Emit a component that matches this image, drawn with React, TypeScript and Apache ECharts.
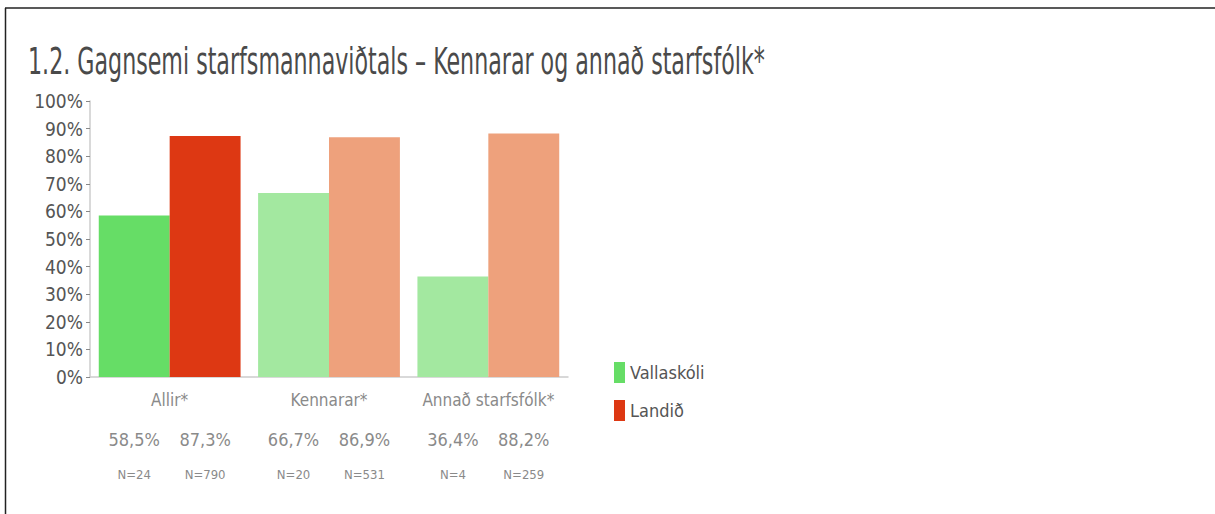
import React, { useEffect, useRef } from "react";
import * as echarts from "echarts";

const titleText = "1.2. Gagnsemi starfsmannaviðtals – Kennarar og annað starfsfólk*";
const categories = ["Allir*", "Kennarar*", "Annað starfsfólk*"];
const seriesNames = ["Vallaskóli", "Landið"];
const schoolValues = [58.5, 66.7, 36.4];
const schoolN = [24, 20, 4];
const nationValues = [87.3, 86.9, 88.2];
const nationN = [790, 531, 259];
const schoolColors = ["#66DD66", "#A3E8A0", "#A3E8A0"];
const nationColors = ["#DD3813", "#EEA17C", "#EEA17C"];
const yTicks = { min: 0, max: 100, interval: 10 };

const FONT = "'DejaVu Sans Condensed', 'Liberation Sans Narrow', sans-serif";

function fmtPct(v: number) {
  return v.toFixed(1).replace(".", ",") + "%";
}

export default function App() {
  const ref = useRef<HTMLDivElement>(null);
  useEffect(() => {
    if (!ref.current) return;
    const chart = echarts.init(ref.current, null, { renderer: "svg" });
    const mkLabel = (ns: number[]) => ({
      show: true,
      position: ["50%", "100%"],
      align: "center",
      verticalAlign: "top",
      offset: [0, 50],
      formatter: (p: any) => `{p|${fmtPct(p.value)}}\n{n|N=${ns[p.dataIndex]}}`,
      rich: {
        p: { fontFamily: FONT, fontSize: 18, color: "#8a8a8a", lineHeight: 24 },
        n: { fontFamily: FONT, fontSize: 13, color: "#8a8a8a", lineHeight: 46 },
      },
    });
    chart.setOption({
      animation: false,
      backgroundColor: "#ffffff",
      textStyle: { fontFamily: FONT },
      graphic: [
        {
          type: "line",
          shape: { x1: 5, y1: 8, x2: 1215, y2: 8 },
          style: { stroke: "#222", lineWidth: 1.5 },
        },
        {
          type: "line",
          shape: { x1: 5.5, y1: 8, x2: 5.5, y2: 514 },
          style: { stroke: "#222", lineWidth: 1.5 },
        },
        {
          type: "text",
          x: 28,
          y: 61,
          scaleX: 0.666,
          style: {
            text: titleText,
            fontFamily: FONT,
            fontSize: 37,
            fill: "#4a4a4a",
            verticalAlign: "middle",
          },
        },
      ],
      grid: { left: 90, right: 647, top: 101, bottom: 137 },
      legend: {
        orient: "vertical",
        left: 609,
        top: 357,
        itemWidth: 11,
        itemHeight: 21,
        itemGap: 17,
        itemTextGap: 7,
        itemStyle: { borderWidth: 0 },
        icon: "rect",
        textStyle: { fontFamily: FONT, fontSize: 18, color: "#555" },
        data: seriesNames,
      },
      xAxis: {
        type: "category",
        data: categories,
        axisLine: { lineStyle: { color: "#cccccc", width: 1.5 } },
        axisTick: { show: false },
        axisLabel: { interval: 0, fontFamily: FONT, fontSize: 17, color: "#8a8a8a", margin: 14 },
      },
      yAxis: {
        type: "value",
        min: yTicks.min,
        max: yTicks.max,
        interval: yTicks.interval,
        splitLine: { show: false },
        axisLine: { show: true, lineStyle: { color: "#cccccc", width: 1.5 } },
        axisTick: { show: true, length: 4, lineStyle: { color: "#888" } },
        axisLabel: {
          formatter: "{value}%",
          fontFamily: FONT,
          fontSize: 19,
          color: "#555",
          margin: 7,
        },
      },
      series: [
        {
          name: seriesNames[0],
          type: "bar",
          barGap: "0%",
          barCategoryGap: "11%",
          color: schoolColors[0],
          data: schoolValues.map((v, i) => ({ value: v, itemStyle: { color: schoolColors[i] } })),
          label: mkLabel(schoolN),
        },
        {
          name: seriesNames[1],
          type: "bar",
          barGap: "0%",
          barCategoryGap: "11%",
          color: nationColors[0],
          data: nationValues.map((v, i) => ({ value: v, itemStyle: { color: nationColors[i] } })),
          label: mkLabel(nationN),
        },
      ],
    });
    return () => chart.dispose();
  }, []);
  return (
    <div
      ref={ref}
      style={{ position: "absolute", left: 0, top: 0, width: 1215, height: 514 }}
    />
  );
}
